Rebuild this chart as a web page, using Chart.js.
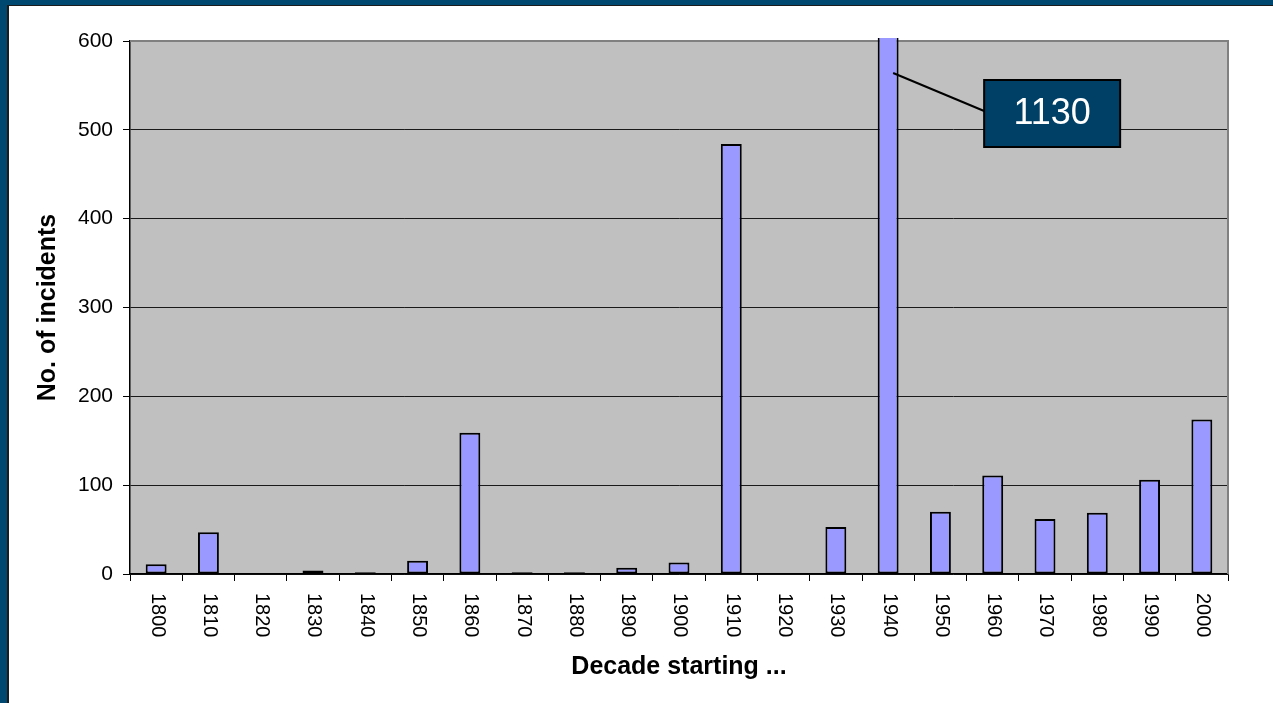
<!DOCTYPE html>
<html>
<head>
<meta charset="utf-8">
<script src="https://cdn.jsdelivr.net/npm/chart.js@4/dist/chart.umd.min.js"></script>
<style>
  html, body { margin: 0; padding: 0; width: 1273px; height: 703px; overflow: hidden; background: #004870; }
  .frame { position: absolute; left: 7px; top: 5px; width: 1266px; height: 698px; box-sizing: border-box;
           background: #ffffff; border-left: 2px solid #1c1c1c; border-top: 1px solid #1c1c1c; }
  canvas { position: absolute; left: 0; top: 0; }
</style>
</head>
<body>
<div class="frame"></div>
<canvas id="chart" width="1273" height="703"></canvas>
<script>
// Decades (x categories) and number of incidents recorded in each
const decades = ['1800', '1810', '1820', '1830', '1840', '1850', '1860', '1870', '1880', '1890',
                 '1900', '1910', '1920', '1930', '1940', '1950', '1960', '1970', '1980', '1990', '2000'];
const incidents = [11, 47, 0, 4, 2, 15, 159, 2, 2, 7, 13, 484, 0, 53, 1130, 70, 111, 62, 69, 106, 174];
const yMin = 0;
const yMax = 600;
const yStep = 100;
const yTitle = 'No. of incidents';
const xTitle = 'Decade starting ...';

const FONT = "'Liberation Sans', Arial, Helvetica, sans-serif";
Chart.defaults.font.family = FONT;
Chart.defaults.color = '#000';

// Grey plot area with a thin grey frame on top/right
const plotBackground = {
  id: 'plotBackground',
  beforeDraw(chart) {
    const { ctx, chartArea: a } = chart;
    ctx.save();
    ctx.fillStyle = '#C0C0C0';
    ctx.fillRect(a.left, a.top, a.right - a.left, a.bottom - a.top);
    ctx.restore();
  },
  beforeDatasetsDraw(chart) {
    const { ctx, chartArea: a } = chart;
    ctx.save();
    ctx.strokeStyle = '#808080';
    ctx.lineWidth = 2;
    ctx.beginPath();
    ctx.moveTo(a.left, a.top);
    ctx.lineTo(a.right, a.top);
    ctx.lineTo(a.right, a.bottom);
    ctx.stroke();
    ctx.restore();
  }
};

// Category labels rotated to read top-to-bottom
const verticalLabels = {
  id: 'verticalLabels',
  afterDraw(chart) {
    const { ctx, scales: { x }, chartArea: a } = chart;
    ctx.save();
    ctx.font = '20px ' + FONT;
    ctx.fillStyle = '#000';
    ctx.textAlign = 'left';
    ctx.textBaseline = 'middle';
    decades.forEach((label, i) => {
      const px = x.getPixelForValue(i) + 1;
      ctx.save();
      ctx.translate(px, a.bottom + 19);
      ctx.rotate(Math.PI / 2);
      ctx.fillText(label, 0, 0);
      ctx.restore();
    });
    ctx.restore();
  }
};

// Callout giving the value of any bar that runs past the top of the axis
const overflowCallout = {
  id: 'overflowCallout',
  afterDatasetsDraw(chart) {
    const { ctx, chartArea: a } = chart;
    const meta = chart.getDatasetMeta(0);
    incidents.forEach((v, i) => {
      if (v <= yMax) return;
      const bar = meta.data[i];
      const boxX = bar.x + 96, boxY = a.top + 39, boxW = 136, boxH = 67;
      ctx.save();
      ctx.strokeStyle = '#000';
      ctx.lineWidth = 2;
      ctx.beginPath();
      ctx.moveTo(bar.x + 5, a.top + 32);
      ctx.lineTo(boxX, boxY + 31);
      ctx.stroke();
      ctx.fillStyle = '#004066';
      ctx.fillRect(boxX, boxY, boxW, boxH);
      ctx.strokeRect(boxX, boxY, boxW, boxH);
      ctx.fillStyle = '#fff';
      ctx.font = '36px ' + FONT;
      ctx.textAlign = 'center';
      ctx.textBaseline = 'middle';
      ctx.fillText(String(v), boxX + boxW / 2, boxY + boxH / 2 + 1);
      ctx.restore();
    });
  }
};

new Chart(document.getElementById('chart'), {
  type: 'bar',
  data: {
    labels: decades,
    datasets: [{
      data: incidents,
      backgroundColor: '#9999FF',
      borderColor: '#000',
      borderWidth: 2,
      borderSkipped: false,
      barPercentage: 0.4,
      categoryPercentage: 1.0,
      clip: { left: 5, right: 5, top: 3, bottom: 0 }
    }]
  },
  options: {
    responsive: false,
    animation: false,
    devicePixelRatio: 1,
    layout: { padding: { left: 0, top: 41, right: 45, bottom: 0 } },
    plugins: { legend: { display: false }, tooltip: { enabled: false } },
    scales: {
      x: {
        afterFit(s) { s.height = 129; },
        ticks: { display: false },
        grid: { offset: true, drawOnChartArea: false, drawTicks: true, tickLength: 7, color: '#000', lineWidth: 1 },
        border: { display: true, color: '#000', width: 1.5 },
        title: { display: true, text: xTitle, font: { size: 25, weight: 'bold' }, padding: { top: 0, bottom: 21 } }
      },
      y: {
        min: yMin,
        max: yMax,
        afterFit(s) { s.width = 130; },
        ticks: { stepSize: yStep, font: { size: 21 }, color: '#000', padding: 10 },
        grid: {
          color: (c) => (c.tick && c.tick.value === yMax ? 'rgba(0,0,0,0)' : '#1a1a1a'),
          tickColor: '#000',
          tickLength: 7,
          lineWidth: 1
        },
        border: { display: true, color: '#000', width: 1.5 },
        title: { display: true, text: yTitle, font: { size: 25, weight: 'bold' }, padding: { top: 33, bottom: 0 } }
      }
    }
  },
  plugins: [plotBackground, verticalLabels, overflowCallout]
});
</script>
</body>
</html>
